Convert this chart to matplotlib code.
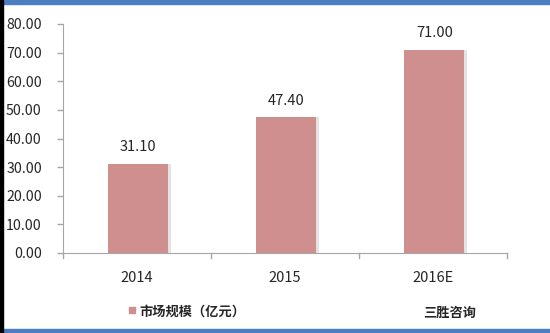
import matplotlib
matplotlib.use("Agg")
import matplotlib.pyplot as plt
from matplotlib.patches import Rectangle

plt.rcParams['font.family'] = ['Noto Sans CJK SC', 'DejaVu Sans']

categories = ['2014', '2015', '2016E']
values = [31.10, 47.40, 71.00]
yticks = [0, 10, 20, 30, 40, 50, 60, 70, 80]
series_name = '市场规模（亿元）'
source = '三胜咨询'

bar_color = '#CF8F8F'
axis_color = '#A6A6A6'
text_color = '#262626'

W, H = 550, 333
fig = plt.figure(figsize=(5.5, 3.33), dpi=100)
fig.patch.set_facecolor('white')
ax = fig.add_axes([62.7 / W, 1 - 253 / H, (507 - 62.7) / W, (253 - 24) / H])

x = list(range(len(categories)))
bw = 0.405
# subtle shadow
ax.bar([i + 0.03 for i in x], values, width=bw, color='#E3E3E3', zorder=1)
ax.bar([i + 0.01 for i in x], values, width=bw, color=bar_color, zorder=2)
for i, v in zip(x, values):
    ax.annotate(f'{v:.2f}', (i + 0.01, v), xytext=(0, 7), textcoords='offset points',
                ha='center', va='bottom', fontsize=10.5, color=text_color)

ax.set_xlim(-0.5, len(categories) - 0.5)
ax.set_ylim(0, 80)
ax.set_yticks(yticks)
ax.set_yticklabels([f'{t:.2f}' for t in yticks], fontsize=10.2, color=text_color)
ax.set_xticks(x)
ax.set_xticklabels(categories, fontsize=10.5, color=text_color)
ax.tick_params(axis='x', length=0, pad=13)
ax.tick_params(axis='y', length=4, color=axis_color, width=1, pad=11)
# x-axis category boundary ticks
for b in [-0.5, 0.5, 1.5, 2.5]:
    ax.plot([b, b], [0, -1.6], color=axis_color, lw=1, clip_on=False, zorder=3)

for s in ['top', 'right']:
    ax.spines[s].set_visible(False)
ax.spines['left'].set_color(axis_color)
ax.spines['bottom'].set_color(axis_color)

# legend
fig.patches.append(Rectangle((129 / W, 1 - 313 / H), 6 / W, 6 / H,
                             transform=fig.transFigure, color=bar_color))
fig.text(139 / W, 1 - 312 / H, series_name, fontsize=9.5, fontweight='bold',
         color=text_color, va='center', ha='left')
fig.text(423 / W, 1 - 313 / H, source, fontsize=9.5, fontweight='bold',
         color=text_color, va='center', ha='left')

# frame decorations
fig.patches.append(Rectangle((0, 1 - 4 / H), 1, 4 / H, transform=fig.transFigure,
                             color='#4A7EC0'))
fig.patches.append(Rectangle((0, 0), 1, 4 / H, transform=fig.transFigure,
                             color='#4A7EC0'))
fig.patches.append(Rectangle((0, 0), 3 / W, 1, transform=fig.transFigure,
                             color='black'))

fig.savefig('out.png', dpi=100)
